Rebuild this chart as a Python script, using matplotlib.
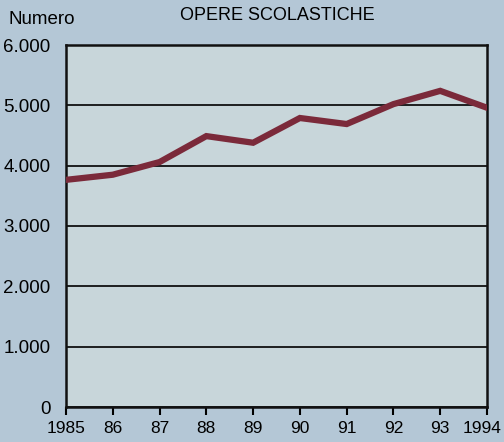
import matplotlib

matplotlib.use("Agg")

import matplotlib.pyplot as plt
from matplotlib.transforms import ScaledTranslation

years = [1985, 1986, 1987, 1988, 1989, 1990, 1991, 1992, 1993, 1994]
year_labels = ["1985", "86", "87", "88", "89", "90", "91", "92", "93", "1994"]
opere = [3765, 3850, 4060, 4490, 4380, 4790, 4690, 5020, 5240, 4960]
y_ticks = [0, 1000, 2000, 3000, 4000, 5000, 6000]
y_labels = ["0", "1.000", "2.000", "3.000", "4.000", "5.000", "6.000"]

BG = "#b4c7d6"
PANEL = "#c8d6da"
LINE = "#7b2a3a"
FONT = ["Liberation Sans", "DejaVu Sans"]
NARROW = ["Liberation Sans Narrow", "Liberation Sans", "DejaVu Sans"]

fig = plt.figure(figsize=(5.04, 4.42), dpi=100, facecolor=BG)
axis = fig.add_axes([66 / 504, 1 - 407 / 442, (487 - 66) / 504, (407 - 45) / 442])
axis.set_facecolor(PANEL)

axis.plot(years, opere, color=LINE, linewidth=4.5, solid_joinstyle="miter", zorder=3)

axis.set_xlim(1985, 1994)
axis.set_ylim(0, 6000)
axis.set_yticks(y_ticks)
axis.set_yticklabels(y_labels, family=FONT, fontsize=13.5)
axis.set_xticks(years)
axis.set_xticklabels(year_labels, family=NARROW, fontsize=12.5)
axis.tick_params(axis="y", length=0, pad=11)
axis.tick_params(axis="x", direction="out", length=6, width=1.5, pad=4)
axis.grid(axis="y", color="black", linewidth=1.2)
for spine in axis.spines.values():
    spine.set_linewidth(1.8)
    spine.set_color("#111111")

# keep the last year label inside the canvas
last = axis.get_xticklabels()[-1]
last.set_transform(last.get_transform() + ScaledTranslation(-5 / 100, 0, fig.dpi_scale_trans))

fig.text(8 / 504, 1 - 19 / 442, "Numero", family=FONT, fontsize=13.5, ha="left", va="center")
fig.text(277 / 504, 1 - 15 / 442, "OPERE SCOLASTICHE", family=FONT, fontsize=13,
         ha="center", va="center")

fig.savefig("out.png", dpi=100, facecolor=BG)
